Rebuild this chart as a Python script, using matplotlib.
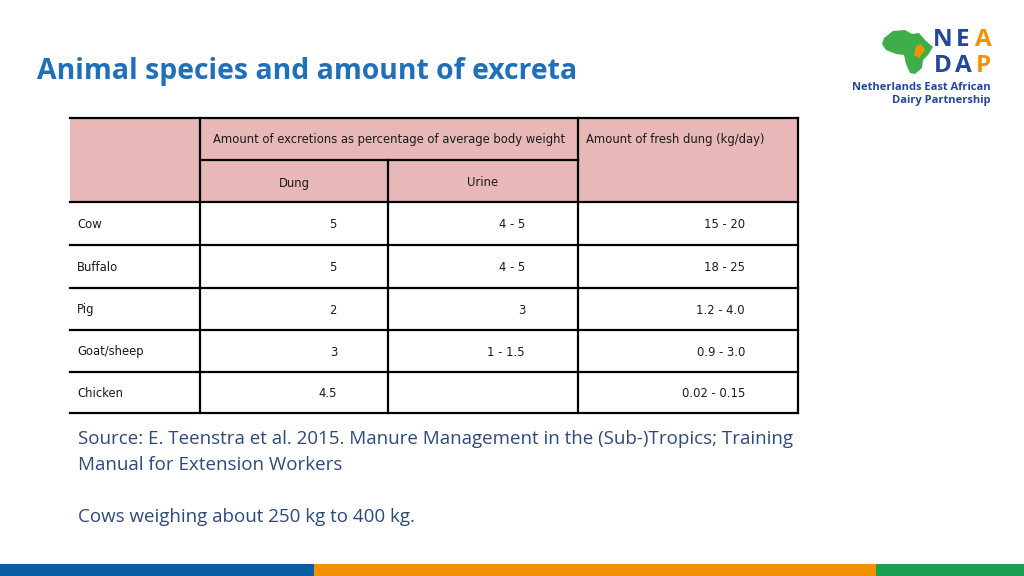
import matplotlib
matplotlib.use("Agg")
import matplotlib.pyplot as plt
from matplotlib.patches import Rectangle, Polygon

# table content
animals = ["Cow", "Buffalo", "Pig", "Goat/sheep", "Chicken"]
dung_pct = ["5", "5", "2", "3", "4.5"]
urine_pct = ["4 - 5", "4 - 5", "3", "1 - 1.5", ""]
fresh_dung = ["15 - 20", "18 - 25", "1.2 - 4.0", "0.9 - 3.0", "0.02 - 0.15"]

title = "Animal species and amount of excreta"
header_top = "Amount of excretions as percentage of average body weight"
header_fresh = "Amount of fresh dung (kg/day)"
sub_headers = ["Dung", "Urine"]
source_lines = ["Source: E. Teenstra et al. 2015. Manure Management in the (Sub-)Tropics; Training",
                "Manual for Extension Workers"]
note = "Cows weighing about 250 kg to 400 kg."

fig = plt.figure(figsize=(10.24, 5.76), dpi=100)
ax = fig.add_axes([0, 0, 1, 1])
ax.set_xlim(0, 1024)
ax.set_ylim(576, 0)
ax.axis("off")

tfont = ["DejaVu Sans"]
body = ["Open Sans", "DejaVu Sans"]
blue = "#1F6FB9"

# title
ax.text(37, 72, title, fontsize=20.4, fontweight="bold", color=blue,
        family=body, va="center", ha="left")

# table geometry (pixels)
cols = [70, 200, 388, 578, 798]
hdr_top, hdr_mid, hdr_bot = 118, 160, 202
row_edges = [202, 245, 288, 330, 372, 413]
pink = "#E8B7B8"

ax.add_patch(Rectangle((cols[0], hdr_top), cols[-1] - cols[0], hdr_bot - hdr_top,
                       facecolor=pink, edgecolor="none"))
lw = 1.6
ax.plot([cols[0], cols[-1]], [hdr_top, hdr_top], color="black", lw=lw)
ax.plot([cols[1], cols[3]], [hdr_mid, hdr_mid], color="black", lw=lw)
for y in row_edges:
    ax.plot([cols[0], cols[-1]], [y, y], color="black", lw=lw)
for x in [cols[1], cols[3], cols[4]]:
    ax.plot([x, x], [hdr_top, row_edges[-1]], color="black", lw=lw)
ax.plot([cols[2], cols[2]], [hdr_mid, row_edges[-1]], color="black", lw=lw)

txt = "#1A1A1A"
fs = 9.3
st = "condensed"
hkw = dict(fontsize=fs, family=tfont, fontstretch=st, color=txt, va="center")
ax.text((cols[1] + cols[3]) / 2, 140, header_top, ha="center", **hkw)
ax.text(586, 140, header_fresh, ha="left", **hkw)
ax.text((cols[1] + cols[2]) / 2, 183, sub_headers[0], ha="center", **hkw)
ax.text((cols[2] + cols[3]) / 2, 183, sub_headers[1], ha="center", **hkw)

for i, a in enumerate(animals):
    yc = (row_edges[i] + row_edges[i + 1]) / 2 + 1
    ax.text(77, yc, a, ha="left", **hkw)
    ax.text(337, yc, dung_pct[i], ha="right", **hkw)
    ax.text(525, yc, urine_pct[i], ha="right", **hkw)
    ax.text(745, yc, fresh_dung[i], ha="right", **hkw)

# source & note
src_col = "#2E4A7A"
ax.text(78, 439, source_lines[0], fontsize=13.5, family=body, color=src_col, va="center")
ax.text(78, 465, source_lines[1], fontsize=13.5, family=body, color=src_col, va="center")
ax.text(78, 517, note, fontsize=13.5, family=body, color=src_col, va="center")

# bottom colour bar
ax.add_patch(Rectangle((0, 564), 314, 12, facecolor="#0A5EA3", edgecolor="none"))
ax.add_patch(Rectangle((314, 564), 562, 12, facecolor="#F39200", edgecolor="none"))
ax.add_patch(Rectangle((876, 564), 148, 12, facecolor="#1BA052", edgecolor="none"))

# logo: rough africa shape + letters
africa = [(884, 38), (893, 31), (905, 30), (912, 34), (919, 33), (925, 40), (933, 47),
          (928, 55), (923, 60), (922, 68), (915, 74), (910, 73), (906, 64), (904, 55),
          (896, 54), (886, 50), (882, 44)]
ax.add_patch(Polygon(africa, closed=True, facecolor="#3DAE49", edgecolor="none"))
ax.add_patch(Polygon([(916, 46), (921, 44), (925, 50), (919, 58), (914, 55)], closed=True,
                     facecolor="#F39200", edgecolor="none"))
logo_font = ["Open Sans", "DejaVu Sans"]
nb = "#24479B"
for j, (ch, c) in enumerate(zip("NEA", [nb, nb, "#F39200"])):
    ax.text(943 + j * 20, 40, ch, fontsize=17.5, fontweight="bold", color=c,
            family=logo_font, ha="center", va="center")
for j, (ch, c) in enumerate(zip("DAP", [nb, nb, "#F39200"])):
    ax.text(943 + j * 20, 66, ch, fontsize=17.5, fontweight="bold", color=c,
            family=logo_font, ha="center", va="center")
ax.text(991, 87, "Netherlands East African", fontsize=8, fontweight="bold",
        color=nb, family=logo_font, ha="right", va="center")
ax.text(991, 100, "Dairy Partnership", fontsize=8, fontweight="bold",
        color=nb, family=logo_font, ha="right", va="center")

fig.savefig("out.png", dpi=100)
